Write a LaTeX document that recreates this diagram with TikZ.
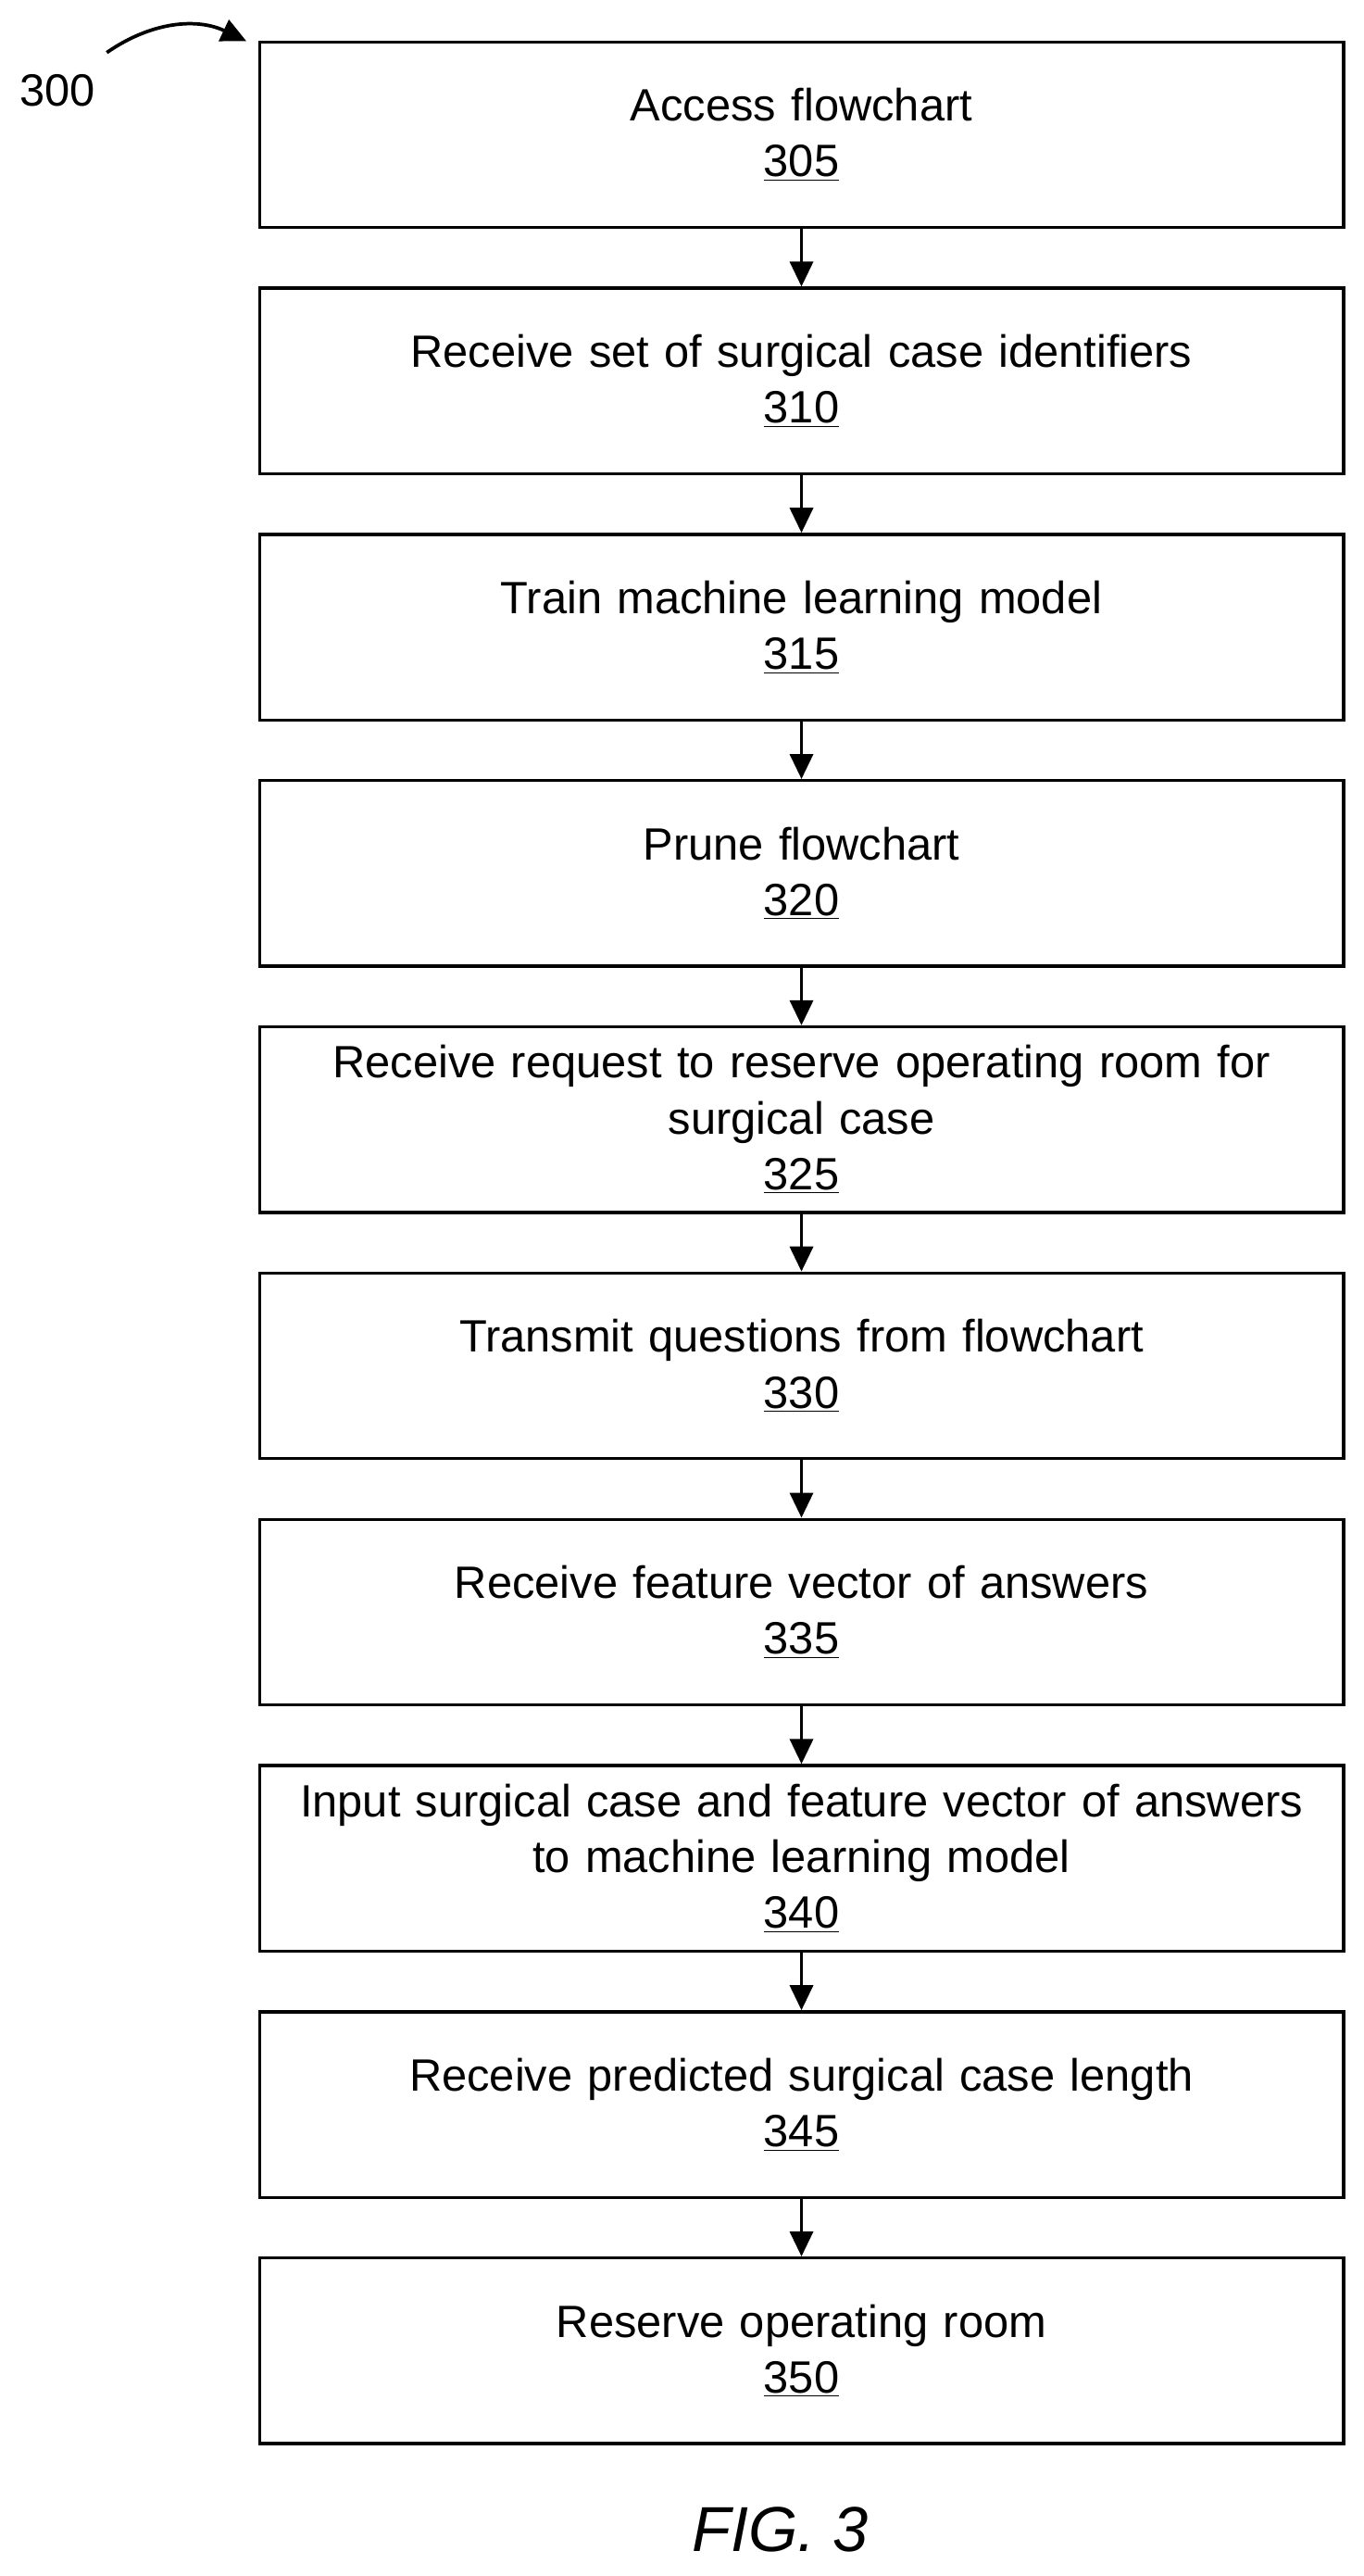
\documentclass[tikz,border=0pt]{standalone}
\usepackage{fontspec}
\setmainfont{Liberation Sans}
\usetikzlibrary{arrows.meta, positioning}

\begin{document}
\begin{tikzpicture}[x=0.03cm, y=-0.03cm]
    \tikzset{
        every node/.style={font=\fontsize{23.5}{29}\selectfont},
        stage/.style={draw, line width=1.6pt, minimum width=19.8cm,
            minimum height=3.39cm, text width=19.6cm, align=center,
            inner sep=0pt},
        flow/.style={-{Triangle[length=13pt, width=12pt]}, line width=1.8pt}
    }
    \useasboundingbox (0,0) rectangle (830,1568);

    % steps of the method
    \node[stage] (s305) at (488,82) {Access flowchart\\\underline{305}};
    \node[stage, below=1.05cm of s305] (s310) {Receive set of surgical case identifiers\\\underline{310}};
    \node[stage, below=1.05cm of s310] (s315) {Train machine learning model\\\underline{315}};
    \node[stage, below=1.05cm of s315] (s320) {Prune flowchart\\\underline{320}};
    \node[stage, below=1.05cm of s320] (s325) {Receive request to reserve operating room for\\surgical case\\\underline{325}};
    \node[stage, below=1.05cm of s325] (s330) {Transmit questions from flowchart\\\underline{330}};
    \node[stage, below=1.05cm of s330] (s335) {Receive feature vector of answers\\\underline{335}};
    \node[stage, below=1.05cm of s335] (s340) {Input surgical case and feature vector of answers\\to machine learning model\\\underline{340}};
    \node[stage, below=1.05cm of s340] (s345) {Receive predicted surgical case length\\\underline{345}};
    \node[stage, below=1.05cm of s345] (s350) {Reserve operating room\\\underline{350}};

    % connectors
    \foreach \a/\b in {305/310, 310/315, 315/320, 320/325, 325/330,
                       330/335, 335/340, 340/345, 345/350}
        \draw[flow] (s\a) -- (s\b);

    % label of the figure
    \node (ref) at (35,55) {300};
    \coordinate (refstart) at (65,32);
    \coordinate (refend) at (150,25);
    \draw[flow] (refstart) to[bend left=30] (refend);

    \node[font=\fontsize{33}{40}\selectfont\itshape] (fig) at (475,1540) {FIG. 3};
\end{tikzpicture}
\end{document}
